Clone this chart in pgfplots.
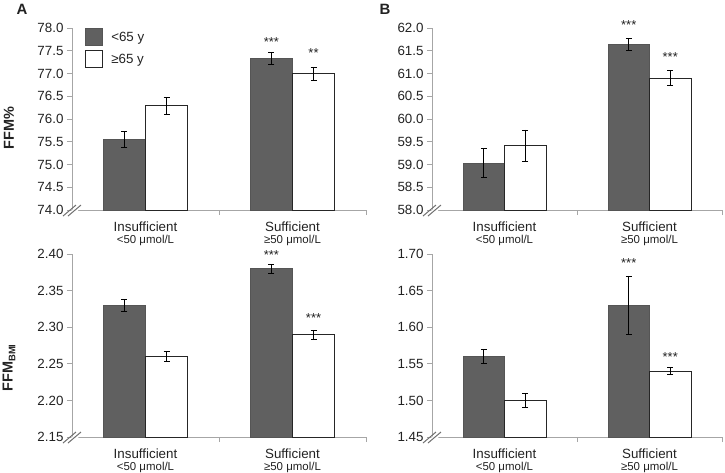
\documentclass[border=0pt]{standalone}
\usepackage{fontspec}
\setmainfont{Liberation Sans}
\usepackage{pgfplots}
\pgfplotsset{compat=1.18}
\definecolor{darkbar}{HTML}{606060}
\definecolor{baredge}{HTML}{555555}
\definecolor{axgray}{HTML}{A6A6A6}
\definecolor{brkgray}{HTML}{707070}
\definecolor{txt}{HTML}{222222}

\newcommand{\catlab}[2]{{\fontsize{13.4}{14}\selectfont #1}\\[0.5bp]{\fontsize{11.5}{12}\selectfont #2}}

\tikzset{star/.style={font=\fontsize{13}{14}\selectfont, text=txt}}

\pgfplotsset{
  panel/.style={
    scale only axis,
    xmin=-0.5, xmax=1.5,
    axis x line*=bottom, axis y line*=left,
    axis line style={axgray, line width=0.9bp},
    xtick={0,1},
    xticklabels={\catlab{Insufficient}{<50 μmol/L}, \catlab{Sufficient}{≥50 μmol/L}},
    xticklabel style={align=center, text=txt, yshift=-3bp},
    major x tick style={draw=none},
    minor xtick={0.5,1.5},
    minor x tick style={axgray, line width=0.9bp},
    minor tick length=5bp,
    major tick length=5bp,
    tick align=outside,
    y tick style={axgray, line width=0.9bp},
    yticklabel style={text=txt, font=\fontsize{13.4}{14}\selectfont,
      /pgf/number format/.cd, fixed, fixed zerofill, assume math mode=true},
    ybar, bar width=0.286,
    clip=false,
    error bars/error bar style={black, line width=0.8bp},
    error bars/error mark options={rotate=90, mark size=3bp, line width=0.8bp, black},
  },
  dark/.style={fill=darkbar, draw=baredge, line width=0.8bp, bar shift=-0.143},
  light/.style={fill=white, draw=black!85, line width=0.8bp, bar shift=0.143},
}

\newcommand{\brk}{%
  \fill[white] ([xshift=-7bp,yshift=-6bp]rel axis cs:0,0) -- ++(13bp,11bp) -- ++(4bp,0) -- ++(-13bp,-11bp) -- cycle;
  \draw[brkgray, line width=1bp] ([xshift=-9bp,yshift=-6bp]rel axis cs:0,0) -- ++(13bp,11bp);
  \draw[brkgray, line width=1bp] ([xshift=-4bp,yshift=-6bp]rel axis cs:0,0) -- ++(13bp,11bp);
}

\begin{document}
\begin{tikzpicture}
\path[use as bounding box] (0,0) rectangle (725bp,473bp);

% Panel A
\begin{axis}[panel, at={(72bp,263bp)}, anchor=south west, width=294bp, height=182bp,
  ymin=74, ymax=78, ytick={74,74.5,...,78},
  yticklabel style={/pgf/number format/precision=1},
  legend style={draw=none, fill=none, at={(0.035,1.01)}, anchor=north west,
    font=\fontsize{13.4}{14}\selectfont, row sep=4bp, text=txt,
    /tikz/every odd column/.append style={column sep=6bp}},
  legend cell align=left,
  legend image code/.code={\draw[#1] (0bp,-8.5bp) rectangle (17bp,8.5bp);}]
\addplot[dark, error bars/.cd, y dir=both, y explicit]
  coordinates {(0,75.55) +- (0,0.17) (1,77.33) +- (0,0.125)};
\addlegendentry{<65 y}
\addplot[light, error bars/.cd, y dir=both, y explicit]
  coordinates {(0,76.29) +- (0,0.18) (1,77.00) +- (0,0.14)};
\addlegendentry{≥65 y}
\node[star] at (axis cs:0.857,77.69) {***};
\node[star] at (axis cs:1.143,77.44) {**};
\brk
\end{axis}

% Panel B
\begin{axis}[panel, at={(432bp,263bp)}, anchor=south west, width=290bp, height=182bp,
  ymin=58, ymax=62, ytick={58,58.5,...,62},
  yticklabel style={/pgf/number format/precision=1}]
\addplot[dark, error bars/.cd, y dir=both, y explicit]
  coordinates {(0,59.03) +- (0,0.32) (1,61.64) +- (0,0.13)};
\addplot[light, error bars/.cd, y dir=both, y explicit]
  coordinates {(0,59.41) +- (0,0.35) (1,60.90) +- (0,0.165)};
\node[star] at (axis cs:0.857,62.07) {***};
\node[star] at (axis cs:1.143,61.36) {***};
\brk
\end{axis}

% Panel C
\begin{axis}[panel, at={(72bp,36bp)}, anchor=south west, width=294bp, height=183bp,
  ymin=2.15, ymax=2.40, ytick={2.15,2.20,...,2.40},
  yticklabel style={/pgf/number format/precision=2}]
\addplot[dark, error bars/.cd, y dir=both, y explicit]
  coordinates {(0,2.330) +- (0,0.008) (1,2.380) +- (0,0.006)};
\addplot[light, error bars/.cd, y dir=both, y explicit]
  coordinates {(0,2.260) +- (0,0.007) (1,2.290) +- (0,0.006)};
\node[star] at (axis cs:0.857,2.398) {***};
\node[star] at (axis cs:1.143,2.312) {***};
\brk
\end{axis}

% Panel D
\begin{axis}[panel, at={(432bp,36bp)}, anchor=south west, width=290bp, height=183bp,
  ymin=1.45, ymax=1.70, ytick={1.45,1.50,...,1.70},
  yticklabel style={/pgf/number format/precision=2}]
\addplot[dark, error bars/.cd, y dir=both, y explicit]
  coordinates {(0,1.56) +- (0,0.01) (1,1.63) +- (0,0.04)};
\addplot[light, error bars/.cd, y dir=both, y explicit]
  coordinates {(0,1.50) +- (0,0.01) (1,1.54) +- (0,0.005)};
\node[star] at (axis cs:0.857,1.687) {***};
\node[star] at (axis cs:1.143,1.559) {***};
\brk
\end{axis}

% Panel letters and y labels
\node[font=\fontsize{15}{16}\selectfont\bfseries, text=txt] at (22bp,464bp) {A};
\node[font=\fontsize{15}{16}\selectfont\bfseries, text=txt] at (385bp,464bp) {B};
\node[rotate=90, font=\fontsize{14.5}{15}\selectfont\bfseries, text=txt] at (9bp,345bp) {FFM\%};
\node[rotate=90, font=\fontsize{14.5}{15}\selectfont\bfseries, text=txt] at (9bp,105bp)
  {FFM\raisebox{-0.35ex}{\fontsize{9.5}{10}\selectfont BMI}};
\end{tikzpicture}
\end{document}
